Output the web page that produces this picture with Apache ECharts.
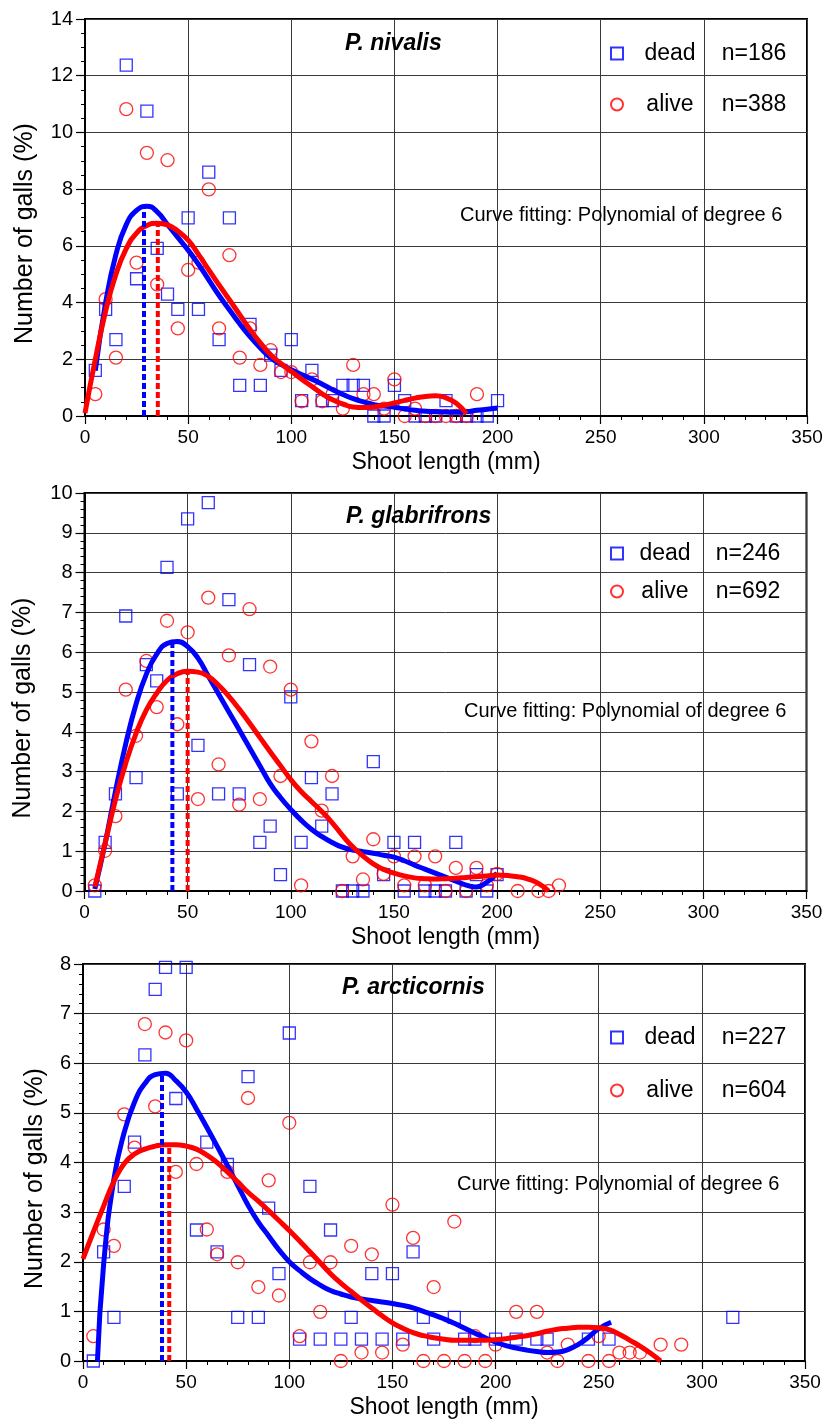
<!DOCTYPE html>
<html><head><meta charset="utf-8">
<script src="https://cdn.jsdelivr.net/npm/echarts@6/dist/echarts.min.js"></script>
<style>html,body{margin:0;padding:0;background:#fff}#c{width:826px;height:1421px}</style>
</head><body><div id="c"></div>
<script>
// ---------- DATA ----------
// x-axis ticks (shoot length, mm)
const xTickMin = 0, xTickMax = 350, xTickStep = 50;

// Panel 1: P. nivalis
const nivDeadX  = [5,10,15,20,25,30,35,40,45,50,55,60,65,70,75,80,85,90,95,100,105,110,115,120,125,130,135,140,145,150,155,160,165,170,175,180,185,190,195,200];
const nivDeadY  = [1.61,3.76,2.69,12.37,4.84,10.75,5.91,4.30,3.76,6.99,3.76,8.60,2.69,6.99,1.08,3.23,1.08,2.15,1.61,2.69,0.54,1.61,0.54,0.54,1.08,1.08,1.08,0,0,1.08,0.54,0,0,0,0.54,0,0,0,0,0.54];
const nivAliveX = [5,10,15,20,25,30,35,40,45,50,55,60,65,70,75,80,85,90,95,100,105,110,115,120,125,130,135,140,145,150,155,160,165,170,175,180,185,190];
const nivAliveY = [0.77,4.12,2.06,10.82,5.41,9.28,4.64,9.02,3.09,5.15,5.41,7.99,3.09,5.67,2.06,3.09,1.80,2.32,1.55,1.55,0.52,1.29,0.52,0.77,0.26,1.80,0.77,0.77,0.26,1.29,0,0.26,0,0,0,0,0,0.77];
// fitted curves
const nivBlueX  = [5,10,15,20,25,30,35,40,45,50,55,60,65,70,75,80,85,90,95,100,105,110,115,120,125,130,135,140,145,150,155,160,165,170,175,180,185,190,195,200];
const nivBlueY  = [1.6,4.0,5.7,6.75,7.25,7.4,7.2,6.75,6.3,5.85,5.35,4.8,4.25,3.75,3.25,2.8,2.4,2.05,1.82,1.63,1.46,1.3,1.12,0.93,0.76,0.61,0.5,0.4,0.35,0.31,0.25,0.2,0.17,0.15,0.14,0.13,0.15,0.2,0.24,0.28];
const nivRedX   = [0,5,10,15,20,25,30,35,40,45,50,55,60,65,70,75,80,85,90,95,100,105,110,115,120,125,130,135,140,145,150,155,160,165,170,175,180,185];
const nivRedY   = [0.1,2.0,3.7,5.0,5.9,6.45,6.72,6.8,6.74,6.52,6.2,5.7,5.15,4.62,4.1,3.57,3.05,2.58,2.16,1.85,1.57,1.3,1.04,0.78,0.57,0.42,0.32,0.3,0.32,0.38,0.46,0.55,0.63,0.69,0.71,0.64,0.45,0.08];
const nivBluePeak = [28.6, 7.4];
const nivRedPeak  = [35.3, 6.8];

// Panel 2: P. glabrifrons
const glaDeadX  = [5,10,15,20,25,30,35,40,45,50,55,60,65,70,75,80,85,90,95,100,105,110,115,120,125,130,135,140,145,150,155,160,165,170,175,180,185,190,195,200];
const glaDeadY  = [0,1.22,2.44,6.91,2.85,5.69,5.28,8.13,2.44,9.35,3.66,9.76,2.44,7.32,2.44,5.69,1.22,1.63,0.41,4.88,1.22,2.85,1.63,2.44,0,0,0,3.25,0.41,1.22,0,1.22,0,0,0,1.22,0,0.41,0,0.41];
const glaAliveX = [5,10,15,20,25,30,35,40,45,50,55,60,65,70,75,80,85,90,95,100,105,110,115,120,125,130,135,140,145,150,155,160,165,170,175,180,185,190,195,200,210,220,225,230];
const glaAliveY = [0.14,1.01,1.88,5.06,3.90,5.78,4.62,6.79,4.19,6.50,2.31,7.37,3.18,5.92,2.17,7.08,2.31,5.64,2.89,5.06,0.14,3.76,2.02,2.89,0,0.87,0.29,1.30,0.43,0.87,0.14,0.87,0.14,0.87,0,0.58,0,0.58,0.14,0.43,0,0,0,0.14];
const glaBlueX  = [5,10,15,20,25,30,35,40,45,50,55,60,65,70,75,80,85,90,95,100,105,110,115,120,125,130,135,140,145,150,155,160,165,170,175,180,185,190,195,200];
const glaBlueY  = [0.05,1.2,2.5,3.7,4.7,5.45,5.95,6.22,6.27,6.14,5.85,5.4,4.95,4.5,4.05,3.6,3.15,2.7,2.35,2.05,1.78,1.55,1.37,1.22,1.1,1.03,0.99,0.95,0.9,0.85,0.76,0.65,0.55,0.45,0.35,0.25,0.15,0.1,0.22,0.45];
const glaRedX   = [5,10,15,20,25,30,35,40,45,50,55,60,65,70,75,80,85,90,95,100,105,110,115,120,125,130,135,140,145,150,155,160,165,170,175,180,185,190,195,200,205,210,215,220,225];
const glaRedY   = [0.1,1.2,2.29,3.21,3.96,4.55,4.97,5.29,5.46,5.52,5.5,5.39,5.17,4.89,4.57,4.22,3.86,3.5,3.15,2.8,2.5,2.25,2.0,1.72,1.4,1.11,0.88,0.68,0.54,0.45,0.38,0.33,0.31,0.3,0.31,0.32,0.34,0.36,0.38,0.4,0.39,0.36,0.3,0.19,0.0];
const glaBluePeak = [42.6, 6.28];
const glaRedPeak  = [50, 5.52];

// Panel 3: P. arcticornis
const arcDeadX  = [5,10,15,20,25,30,35,40,45,50,55,60,65,70,75,80,85,90,95,100,105,110,115,120,125,130,135,140,145,150,155,160,165,170,180,185,190,200,210,220,225,245,255,315];
const arcDeadY  = [0,2.20,0.88,3.52,4.41,6.17,7.49,7.93,5.29,7.93,2.64,4.41,2.20,3.96,0.88,5.73,0.88,3.08,1.76,6.61,0.44,3.52,0.44,2.64,0.44,0.88,0.44,1.76,0.44,1.76,0.44,2.20,0.88,0.44,0.88,0.44,0.44,0.44,0.44,0.44,0.44,0.44,0.44,0.88];
const arcAliveX = [5,10,15,20,25,30,35,40,45,50,55,60,65,70,75,80,85,90,95,100,105,110,115,120,125,130,135,140,145,150,155,160,165,170,175,180,185,190,195,200,210,220,225,230,235,245,250,255,260,265,270,280,290];
const arcAliveY = [0.50,2.65,2.32,4.97,4.30,6.79,5.13,6.62,3.81,6.46,3.97,2.65,2.15,3.81,1.99,5.30,1.49,3.64,1.32,4.80,0.50,1.99,0.99,1.99,0,2.32,0.17,2.15,0.17,3.15,0.33,2.48,0,1.49,0,2.81,0,0.50,0,0.33,0.99,0.99,0.17,0,0.33,0,0.50,0,0.17,0.17,0.17,0.33,0.33];
const arcBlueX  = [7,10,15,20,25,30,35,40,45,50,55,60,65,70,75,80,85,90,95,100,105,110,115,120,125,130,135,140,145,150,155,160,165,170,175,180,185,190,195,200,205,210,215,220,225,230,235,240,245,250,256];
const arcBlueY  = [0,1.95,3.67,4.61,5.22,5.59,5.77,5.8,5.65,5.42,5.08,4.71,4.33,3.94,3.54,3.14,2.8,2.52,2.24,2.0,1.82,1.66,1.53,1.42,1.35,1.29,1.25,1.22,1.19,1.16,1.12,1.07,1.0,0.93,0.85,0.76,0.66,0.56,0.47,0.38,0.31,0.26,0.22,0.19,0.17,0.18,0.23,0.33,0.48,0.65,0.78];
const arcRedX   = [0,5,10,15,20,25,30,35,40,45,50,55,60,65,70,75,80,85,90,95,100,105,110,115,120,125,130,135,140,145,150,155,160,165,170,175,180,185,190,195,200,205,210,215,220,225,230,235,240,245,250,255,260,265,270,275,280];
const arcRedY   = [2.06,2.6,3.12,3.62,3.98,4.17,4.27,4.33,4.36,4.36,4.33,4.27,4.15,4.0,3.81,3.61,3.4,3.22,3.03,2.83,2.63,2.42,2.2,1.98,1.76,1.57,1.4,1.23,1.07,0.91,0.77,0.66,0.57,0.51,0.47,0.44,0.42,0.42,0.42,0.42,0.43,0.45,0.48,0.51,0.55,0.6,0.64,0.66,0.68,0.68,0.67,0.63,0.54,0.42,0.3,0.16,0.0];
const arcBluePeak = [38.3, 5.82];
const arcRedPeak  = [41.8, 4.36];

// y-axis tick settings per panel
const yTickMax  = [14, 10, 8];
const yTickStep = [2, 1, 1];
const yMinorSplit = [4, 5, 5];

const speciesNames = ['P. nivalis', 'P. glabrifrons', 'P. arcticornis'];
const nDead  = ['n=186', 'n=246', 'n=227'];
const nAlive = ['n=388', 'n=692', 'n=604'];

// ---------- LAYOUT ----------
const layout = [
  {grid:{left:85, top:19, width:722, height:397}, nameGap:47, titleTop:32, titleLeft:345, fitLeft:460, fitTop:205, legTop:42, legGap:28, aW:84, bW:84},
  {grid:{left:84.5, top:493, width:722, height:398}, nameGap:49, titleTop:505, titleLeft:346, fitLeft:464, fitTop:701, legTop:542, legGap:15, aW:74, bW:92},
  {grid:{left:83, top:964, width:722, height:397}, nameGap:35, titleTop:976, titleLeft:342, fitLeft:457, fitTop:1174, legTop:1026, legGap:30, aW:84, bW:84}
];

const zip = (xs, ys) => xs.map((x, i) => [x, ys[i]]);
const panels = [
  {dX:nivDeadX,dY:nivDeadY,aX:nivAliveX,aY:nivAliveY,bX:nivBlueX,bY:nivBlueY,rX:nivRedX,rY:nivRedY,bp:nivBluePeak,rp:nivRedPeak},
  {dX:glaDeadX,dY:glaDeadY,aX:glaAliveX,aY:glaAliveY,bX:glaBlueX,bY:glaBlueY,rX:glaRedX,rY:glaRedY,bp:glaBluePeak,rp:glaRedPeak},
  {dX:arcDeadX,dY:arcDeadY,aX:arcAliveX,aY:arcAliveY,bX:arcBlueX,bY:arcBlueY,rX:arcRedX,rY:arcRedY,bp:arcBluePeak,rp:arcRedPeak}
];

const FONT = '"Liberation Sans", Arial, Helvetica, sans-serif';
const BLUE = '#0000ff', RED = '#ff0000';

const option = {
  animation: false,
  backgroundColor: '#fff',
  textStyle: {fontFamily: FONT},
  grid: [], xAxis: [], yAxis: [], series: [], legend: [], title: []
};

panels.forEach((p, i) => {
  const L = layout[i];
  option.grid.push(Object.assign({show: true, borderColor: '#000', borderWidth: 2, backgroundColor: 'transparent'}, L.grid));
  option.xAxis.push({
    type: 'value', gridIndex: i, min: xTickMin, max: xTickMax, interval: xTickStep,
    name: 'Shoot length (mm)', nameLocation: 'middle', nameGap: 35,
    nameTextStyle: {fontSize: 23, color: '#000', fontFamily: FONT},
    axisLine: {show: true, onZero: false, lineStyle: {color: '#000', width: 2}},
    axisTick: {show: true, length: 8, lineStyle: {color: '#000', width: 1.2}},
    minorTick: {show: true, splitNumber: 5, length: 4, lineStyle: {color: '#000', width: 1}},
    axisLabel: {fontSize: 19, color: '#000', margin: 12, fontFamily: FONT},
    splitLine: {show: true, lineStyle: {color: '#3a3a3a', width: 1}}
  });
  option.yAxis.push({
    type: 'value', gridIndex: i, min: 0, max: yTickMax[i], interval: yTickStep[i],
    name: 'Number of galls (%)', nameLocation: 'middle', nameGap: L.nameGap, nameRotate: 90,
    nameTextStyle: {fontSize: 25, color: '#000', fontFamily: FONT, padding: [0, 32, 0, 0]},
    axisLine: {show: true, onZero: false, lineStyle: {color: '#000', width: 2}},
    axisTick: {show: true, length: 9, lineStyle: {color: '#000', width: 1.2}},
    minorTick: {show: true, splitNumber: yMinorSplit[i], length: 4, lineStyle: {color: '#000', width: 1}},
    axisLabel: {fontSize: 20, color: '#000', margin: 12, fontFamily: FONT},
    splitLine: {show: true, lineStyle: {color: '#3a3a3a', width: 1}}
  });
  const deadName = 'dead ' + speciesNames[i];
  const aliveName = 'alive ' + speciesNames[i];
  option.series.push({
    name: deadName, type: 'scatter', xAxisIndex: i, yAxisIndex: i, symbol: 'rect', symbolSize: 12,
    itemStyle: {color: 'rgba(255,255,255,0)', borderColor: BLUE, borderWidth: 1.3}, data: zip(p.dX, p.dY), z: 2
  });
  option.series.push({
    name: aliveName, type: 'scatter', xAxisIndex: i, yAxisIndex: i, symbol: 'circle', symbolSize: 13,
    itemStyle: {color: 'rgba(255,255,255,0)', borderColor: RED, borderWidth: 1.3}, data: zip(p.aX, p.aY), z: 2
  });
  option.series.push({
    name: 'fit dead ' + i, type: 'line', xAxisIndex: i, yAxisIndex: i, smooth: 0.5, showSymbol: false, symbol: 'none',
    lineStyle: {color: BLUE, width: 5}, data: zip(p.bX, p.bY), z: 3
  });
  option.series.push({
    name: 'fit alive ' + i, type: 'line', xAxisIndex: i, yAxisIndex: i, smooth: 0.5, showSymbol: false, symbol: 'none',
    lineStyle: {color: RED, width: 5}, data: zip(p.rX, p.rY), z: 3
  });
  option.series.push({
    name: 'peak dead ' + i, type: 'line', xAxisIndex: i, yAxisIndex: i, symbol: 'none',
    lineStyle: {color: BLUE, width: 4, type: [6, 3]}, data: [[p.bp[0], 0], [p.bp[0], p.bp[1]]], z: 4
  });
  option.series.push({
    name: 'peak alive ' + i, type: 'line', xAxisIndex: i, yAxisIndex: i, symbol: 'none',
    lineStyle: {color: RED, width: 4, type: [6, 3]}, data: [[p.rp[0], 0], [p.rp[0], p.rp[1]]], z: 4
  });
  const nMap = {}; nMap[deadName] = ['dead', nDead[i]]; nMap[aliveName] = ['alive', nAlive[i]];
  option.legend.push({
    data: [deadName, aliveName], orient: 'vertical', left: 610, top: L.legTop,
    itemWidth: 12, itemHeight: 12, itemGap: L.legGap, padding: 0, selectedMode: false,
    textStyle: {color: '#000', fontSize: 23, fontFamily: FONT,
      rich: {a: {width: L.aW, align: 'center', fontSize: 23, lineHeight: 26, fontFamily: FONT},
             b: {width: L.bW, align: 'center', fontSize: 23, lineHeight: 26, fontFamily: FONT}}},
    formatter: name => '{a|' + nMap[name][0] + '}{b|' + nMap[name][1] + '}'
  });
  option.title.push({
    text: speciesNames[i], left: L.titleLeft, top: L.titleTop, padding: 0,
    textStyle: {fontSize: 23, fontStyle: 'italic', fontWeight: 'bold', color: '#000', fontFamily: FONT}
  });
  option.title.push({
    text: 'Curve fitting: Polynomial of degree 6', left: L.fitLeft, top: L.fitTop, padding: 0,
    textStyle: {fontSize: 20, fontWeight: 'normal', color: '#000', fontFamily: FONT}
  });
});

const chart = echarts.init(document.getElementById('c'), null, {renderer: 'canvas'});
chart.setOption(option);
</script>
</body></html>
